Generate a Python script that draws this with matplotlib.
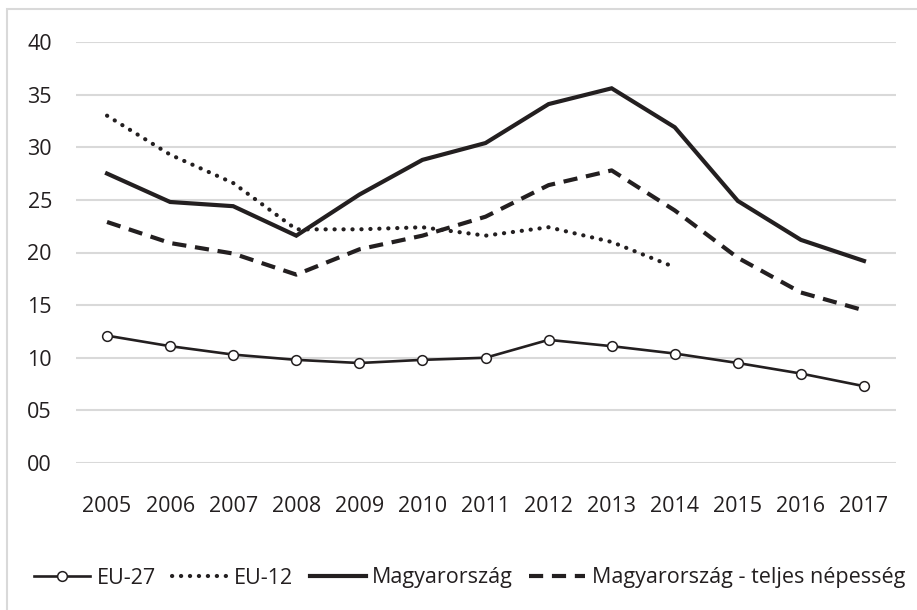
import numpy as np
import matplotlib
matplotlib.use('Agg')
import matplotlib.pyplot as plt
from matplotlib.patches import Rectangle

years = [str(y) for y in range(2005, 2018)]
eu27 = [12.1, 11.1, 10.3, 9.8, 9.5, 9.8, 10.0, 11.7, 11.1, 10.4, 9.5, 8.5, 7.3]
eu12 = [33.0, 29.3, 26.6, 22.2, 22.2, 22.4, 21.6, 22.4, 21.0, 18.6]
hu = [27.5, 24.8, 24.4, 21.6, 25.5, 28.8, 30.4, 34.1, 35.6, 31.9, 24.9, 21.2, 19.2]
hu_total = [22.9, 20.9, 19.9, 17.9, 20.3, 21.6, 23.4, 26.4, 27.8, 24.0, 19.5, 16.2, 14.5]
yticks = [0, 5, 10, 15, 20, 25, 30, 35, 40]

plt.rcParams['font.family'] = ['Open Sans', 'DejaVu Sans']
plt.rcParams['font.size'] = 15.5
ink = '#231f20'

W, H = 917, 610
fig = plt.figure(figsize=(W/100, H/100), dpi=100)
ax = fig.add_axes([75.5/W, 1-463/H, (895.5-75.5)/W, (463-42)/H])

# light frame around the chart area
fig.patches.append(Rectangle((7/W, -0.1), 1.2, 1.1-9/H, transform=fig.transFigure,
                             fill=False, edgecolor='#d9d9d9', lw=1.5))

x = np.arange(len(years))
l1, = ax.plot(x, eu27, color=ink, lw=1.9, marker='o', ms=7, mfc='white', mec=ink, mew=1.1,
              label='EU-27')
l2, = ax.plot(x[:len(eu12)], eu12, color=ink, lw=3, ls=(0, (0.05, 2.1)),
              dash_capstyle='round', label='EU-12')
l3, = ax.plot(x, hu, color=ink, lw=3, solid_joinstyle='miter', label='Magyarország')
l4, = ax.plot(x, hu_total, color=ink, lw=3, ls=(0, (3.4, 2.1)),
              label='Magyarország - teljes népesség')

ax.set_xlim(-0.5, len(years)-0.5)
ax.set_ylim(0, 40)
ax.set_yticks(yticks)
ax.set_yticklabels([f'{v:02d}' for v in yticks])
ax.set_xticks(x)
ax.set_xticklabels(years)
ax.tick_params(axis='y', length=0, pad=17, colors=ink)
ax.tick_params(axis='x', length=0, pad=24, colors=ink)
ax.grid(axis='y', color='#d9d9d9', lw=1.5)
ax.set_axisbelow(True)
for s in ax.spines.values():
    s.set_visible(False)

fig.legend(handles=[l1, l2, l3, l4], loc='center', bbox_to_anchor=(0.512, 1-578/H), ncol=4,
           frameon=False, handlelength=2.6, handletextpad=0.3, columnspacing=0.75,
           borderaxespad=0, labelcolor=ink)

fig.savefig('out.png', dpi=100)
